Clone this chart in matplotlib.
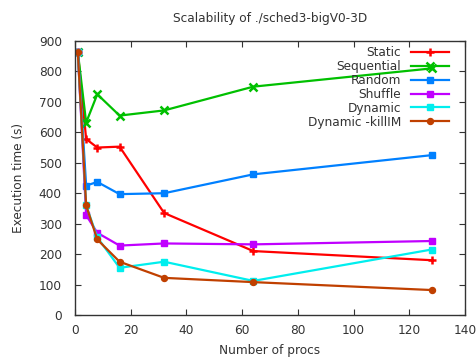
import matplotlib
matplotlib.use("Agg")
import matplotlib.pyplot as plt

procs = [1, 4, 8, 16, 32, 64, 128]
static = [865, 578, 550, 553, 335, 210, 180]
sequential = [865, 632, 725, 655, 672, 750, 810]
random_ = [865, 425, 437, 397, 400, 462, 525]
shuffle = [865, 328, 270, 228, 235, 232, 243]
dynamic = [865, 360, 255, 155, 175, 112, 215]
dynamic_killim = [865, 360, 248, 175, 122, 108, 82]

labels = ["Static", "Sequential", "Random", "Shuffle", "Dynamic", "Dynamic -killIM"]
series = [static, sequential, random_, shuffle, dynamic, dynamic_killim]
colors = ["#ff0000", "#00c000", "#0080ff", "#c000ff", "#00eeee", "#c04000"]
# gnuplot-like point types: plus, cross, filled squares, filled circle
markers = ["+", "x", "s", "s", "s", "o"]
msizes = [6, 5.5, 4.3, 4.3, 4.3, 4.3]

plt.rcParams["font.family"] = "DejaVu Sans"
fig = plt.figure(figsize=(4.76, 3.58), dpi=100)
ax = fig.add_axes([75 / 476, 1 - 315 / 358, 390 / 476, 274 / 358])

for y, lab, c, m, ms in zip(series, labels, colors, markers, msizes):
    ax.plot(procs, y, color=c, marker=m, markersize=ms, linewidth=1.6,
            markeredgewidth=1.8 if m in "+x" else 1, label=lab)

ax.set_xlim(0, 140)
ax.set_ylim(0, 900)
ax.set_xticks(range(0, 141, 20))
ax.set_yticks(range(0, 901, 100))
ax.tick_params(direction="in", top=True, right=True, labelsize=8.7,
               colors="#333333", length=4, width=0.8)
ax.tick_params(axis="y", pad=9.5)
ax.tick_params(axis="x", pad=6.5)
for s in ax.spines.values():
    s.set_color("#333333")
    s.set_linewidth(1)

ax.set_title("Scalability of ./sched3-bigV0-3D", fontsize=8.7, color="#333333", pad=14)
ax.set_xlabel("Number of procs", fontsize=8.7, color="#333333", labelpad=5)
ax.set_ylabel("Execution time (s)", fontsize=8.7, color="#333333", labelpad=10)

ax.legend(loc="upper right", bbox_to_anchor=(1 - 11 / 390, 1), frameon=False,
          markerfirst=False, fontsize=8.7,
          handlelength=3.2, labelspacing=0.08, borderaxespad=0.1,
          borderpad=0.3, handletextpad=0.8, labelcolor="#333333")

fig.savefig("out.png", dpi=100)
